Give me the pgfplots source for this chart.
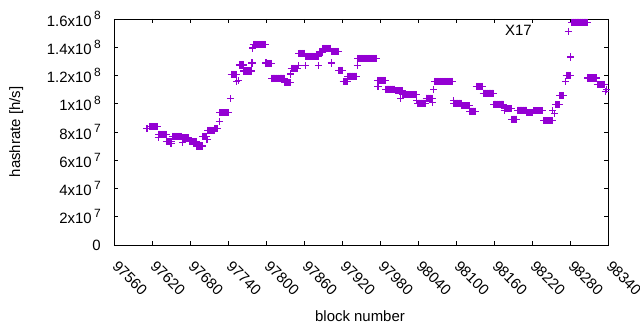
\documentclass[border=0pt]{standalone}
\usepackage{fontspec}
\setmainfont{Liberation Sans}
\usepackage{pgfplots}
\pgfplotsset{compat=1.18}
\definecolor{gpviolet}{RGB}{148,0,211}
\newcommand{\sx}[1]{\,\raisebox{0.42em}{\fontsize{12}{12}\selectfont #1}}
\begin{document}
\fontsize{15}{18}\selectfont
\begin{tikzpicture}
\useasboundingbox (-114bp,-85bp) rectangle (526bp,245bp);
\begin{axis}[
  at={(0,0)}, anchor=south west,
  scale only axis, width=494bp, height=226bp,
  xmin=97560, xmax=98340, ymin=0, ymax=1.6e8,
  clip=false,
  xtick={97560,97620,97680,97740,97800,97860,97920,97980,98040,98100,98160,98220,98280,98340},
  xticklabels={97560,97620,97680,97740,97800,97860,97920,97980,98040,98100,98160,98220,98280,98340},
  ytick={0,2e7,4e7,6e7,8e7,1e8,1.2e8,1.4e8,1.6e8},
  yticklabels={0,2x10\sx{7},4x10\sx{7},6x10\sx{7},8x10\sx{7},1x10\sx{8},1.2x10\sx{8},1.4x10\sx{8},1.6x10\sx{8}},
  scaled x ticks=false, scaled y ticks=false,
  tick align=inside, tick pos=both,
  major tick length=4bp,
  axis line style={line width=0.9bp},
  tick style={line width=0.8bp, black},
  xticklabel style={xshift=5bp, yshift=-13bp, rotate=-45, anchor=north west, inner sep=1bp},
  yticklabel style={anchor=east, inner sep=0bp, xshift=-13bp},
  xlabel={block number}, ylabel={hashrate [h/s]},
  xlabel style={at={(axis description cs:0.498,-0.314)}, anchor=center},
  ylabel style={at={(axis description cs:-0.198,0.5)}, anchor=center},
  legend plot pos=right, legend cell align=right,
  legend image code/.code={\path (0cm,0cm); \draw[#1] plot coordinates {(1.2cm,0cm)};},
  legend style={draw=none, fill=none, inner sep=0pt, outer sep=0pt, anchor=east, at={(axis description cs:0.927,0.945)}},
]
\addplot[only marks, mark=+, mark size=3.6bp, line width=1.2bp, color=gpviolet] coordinates {
(97612,82.4e6)
(97617,83.8e6)(97618,83.8e6)(97619,83.8e6)(97620,83.8e6)(97621,83.8e6)(97622,83.8e6)(97623,83.8e6)(97624,83.8e6)(97625,83.8e6)(97626,83.8e6)(97627,83.8e6)(97628,83.8e6)(97629,83.8e6)
(97630,76.1e6)
(97631,78.2e6)(97632,78.2e6)(97633,78.2e6)(97634,78.2e6)(97635,78.2e6)(97636,78.2e6)(97637,78.2e6)(97638,78.2e6)(97639,78.2e6)(97640,78.2e6)(97641,78.2e6)(97642,78.2e6)
(97643,73.2e6)(97644,73.2e6)(97645,73.2e6)(97646,73.2e6)(97647,73.2e6)(97648,73.2e6)(97649,73.2e6)(97650,71.8e6)(97651,73.2e6)
(97652,76.8e6)(97653,76.8e6)(97654,76.8e6)(97655,76.8e6)(97656,76.8e6)(97657,76.8e6)(97658,76.8e6)(97659,76.8e6)(97660,76.8e6)(97661,76.8e6)(97662,76.8e6)(97663,76.8e6)(97664,76.8e6)(97665,76.8e6)(97666,76.8e6)(97667,76.8e6)
(97668,72.5e6)
(97669,75.7e6)(97670,75.7e6)(97671,75.7e6)(97672,75.7e6)(97673,75.7e6)(97674,75.7e6)(97675,75.7e6)(97676,75.7e6)(97677,75.7e6)(97678,75.7e6)
(97679,73.2e6)(97680,73.2e6)(97681,73.2e6)(97682,73.2e6)(97683,73.2e6)(97684,73.2e6)(97685,73.2e6)(97686,73.2e6)(97687,73.2e6)(97688,73.2e6)(97689,73.2e6)(97690,73.2e6)
(97691,70.1e6)(97692,70.1e6)(97693,70.1e6)(97694,70.1e6)(97695,70.1e6)(97696,70.1e6)(97697,70.1e6)(97698,70.1e6)(97699,70.1e6)
(97700,76.8e6)(97701,76.8e6)(97702,76.8e6)(97703,76.8e6)(97704,76.8e6)(97705,76.8e6)(97706,76.8e6)
(97707,74.6e6)
(97708,81.0e6)(97709,81.0e6)(97710,81.0e6)(97711,81.0e6)(97712,81.0e6)(97713,81.0e6)(97714,81.0e6)(97715,81.0e6)(97716,81.0e6)(97717,81.0e6)(97718,81.0e6)
(97719,82.4e6)(97720,82.4e6)(97721,82.4e6)(97722,82.4e6)(97723,82.4e6)(97724,82.4e6)
(97726,87.3e6)
(97727,93.7e6)(97728,93.7e6)(97729,93.7e6)(97730,93.7e6)(97731,93.7e6)(97732,93.7e6)(97733,93.7e6)(97734,93.7e6)(97735,93.7e6)(97736,93.7e6)(97737,93.7e6)(97738,93.7e6)(97740,93.7e6)
(97744,103.5e6)
(97745,120.8e6)(97746,120.8e6)(97747,120.8e6)(97748,120.8e6)(97749,120.8e6)(97750,120.8e6)(97751,120.8e6)(97752,120.8e6)(97753,120.8e6)
(97754,115.5e6)(97756,116.2e6)
(97758,127.5e6)(97759,127.5e6)(97760,127.5e6)(97761,127.5e6)(97762,127.5e6)(97763,127.5e6)(97764,127.5e6)
(97765,123.2e6)(97766,123.2e6)(97767,123.2e6)(97768,123.2e6)(97769,123.2e6)(97770,123.2e6)(97771,123.2e6)(97772,123.2e6)(97773,123.2e6)(97774,123.2e6)(97775,123.2e6)(97776,123.2e6)(97777,123.2e6)
(97778,128.9e6)
(97779,139.4e6)
(97780,141.9e6)(97781,141.9e6)(97782,141.9e6)(97783,141.9e6)(97784,141.9e6)(97785,141.9e6)(97786,141.9e6)(97787,141.9e6)(97788,141.9e6)(97789,141.9e6)(97790,141.9e6)(97791,141.9e6)(97792,141.9e6)(97793,141.9e6)(97794,141.9e6)(97795,141.9e6)(97796,141.9e6)(97797,141.9e6)(97798,141.9e6)(97799,141.9e6)
(97800,128.9e6)
(97801,128.5e6)(97802,128.5e6)(97803,128.5e6)(97804,128.5e6)(97805,128.5e6)(97806,128.5e6)(97807,128.5e6)(97808,128.5e6)
(97809,118.0e6)(97810,118.0e6)(97811,118.0e6)(97812,118.0e6)(97813,118.0e6)(97814,118.0e6)(97815,118.0e6)(97816,118.0e6)(97817,118.0e6)(97818,118.0e6)(97819,118.0e6)(97820,118.0e6)(97821,118.0e6)(97822,118.0e6)(97823,118.0e6)(97824,118.0e6)(97825,118.0e6)(97826,118.0e6)(97827,118.0e6)(97828,118.0e6)(97829,118.0e6)
(97830,115.1e6)(97831,115.1e6)(97832,115.1e6)(97833,115.1e6)(97834,115.1e6)(97835,115.1e6)(97836,115.1e6)(97837,115.1e6)(97838,115.1e6)
(97839,121.1e6)
(97840,125.0e6)(97841,125.0e6)(97842,125.0e6)(97843,125.0e6)(97844,125.0e6)(97845,125.0e6)(97846,125.0e6)(97847,125.0e6)(97848,125.0e6)(97849,125.0e6)(97850,125.0e6)
(97851,126.8e6)
(97852,135.6e6)(97853,135.6e6)(97854,135.6e6)(97855,135.6e6)(97856,135.6e6)(97857,135.6e6)(97858,135.6e6)(97859,135.6e6)(97860,135.6e6)(97861,135.6e6)
(97862,126.8e6)
(97863,133.4e6)(97864,133.4e6)(97865,133.4e6)(97866,133.4e6)(97867,133.4e6)(97868,133.4e6)(97869,133.4e6)(97870,133.4e6)(97871,133.4e6)(97872,133.4e6)(97873,133.4e6)(97874,133.4e6)(97875,133.4e6)(97876,133.4e6)(97877,133.4e6)(97878,133.4e6)(97879,133.4e6)(97880,133.4e6)(97881,133.4e6)(97882,133.4e6)
(97883,126.8e6)
(97884,136.6e6)(97885,136.6e6)(97886,136.6e6)(97887,136.6e6)(97888,136.6e6)(97889,136.6e6)
(97890,139.1e6)(97891,139.1e6)(97892,139.1e6)(97893,139.1e6)(97894,139.1e6)(97895,139.1e6)(97896,139.1e6)(97897,139.1e6)(97898,139.1e6)(97899,139.1e6)(97900,139.1e6)(97901,139.1e6)(97902,139.1e6)
(97903,128.9e6)
(97904,137.0e6)(97905,137.0e6)(97906,137.0e6)(97907,137.0e6)(97908,137.0e6)(97909,137.0e6)(97910,137.0e6)(97911,137.0e6)(97912,137.0e6)(97913,137.0e6)(97914,137.0e6)
(97915,123.6e6)(97916,123.6e6)(97917,123.6e6)(97918,123.6e6)(97919,123.6e6)(97920,123.6e6)(97921,123.6e6)
(97922,115.5e6)(97923,115.5e6)(97924,115.5e6)(97925,115.5e6)(97926,115.5e6)(97927,115.5e6)(97928,115.5e6)
(97929,119.4e6)(97930,119.4e6)(97931,119.4e6)(97932,119.4e6)(97933,119.4e6)(97934,119.4e6)(97935,119.4e6)(97936,119.4e6)(97937,119.4e6)(97938,119.4e6)(97939,119.4e6)(97940,119.4e6)(97941,119.4e6)(97942,119.4e6)(97943,119.4e6)
(97944,126.8e6)
(97945,132.0e6)(97946,132.0e6)(97947,132.0e6)(97948,132.0e6)(97949,132.0e6)(97950,132.0e6)(97951,132.0e6)(97952,132.0e6)(97953,132.0e6)(97954,132.0e6)(97955,132.0e6)(97956,132.0e6)(97957,132.0e6)(97958,132.0e6)(97959,132.0e6)(97960,132.0e6)(97961,132.0e6)(97962,132.0e6)(97963,132.0e6)(97964,132.0e6)(97965,132.0e6)(97966,132.0e6)(97967,132.0e6)(97968,132.0e6)(97969,132.0e6)(97970,132.0e6)(97971,132.0e6)(97972,132.0e6)(97973,132.0e6)(97974,132.0e6)(97975,132.0e6)
(97976,116.5e6)(97977,112.0e6)(97978,116.5e6)(97979,116.5e6)(97980,116.5e6)(97981,116.5e6)(97982,116.5e6)(97983,116.5e6)(97984,116.5e6)(97985,116.5e6)(97986,116.5e6)(97987,116.5e6)(97988,116.5e6)
(97989,110.2e6)(97990,110.2e6)(97991,110.2e6)(97992,110.2e6)(97993,110.2e6)(97994,110.2e6)(97995,110.2e6)(97996,110.2e6)(97997,110.2e6)(97998,110.2e6)(97999,110.2e6)(98000,110.2e6)(98001,110.2e6)(98002,110.2e6)(98003,110.2e6)
(98004,109.2e6)(98005,109.2e6)(98006,109.2e6)(98007,109.2e6)(98008,109.2e6)(98009,109.2e6)(98010,109.2e6)(98011,109.2e6)(98012,109.2e6)(98013,103.5e6)(98014,109.2e6)(98015,109.2e6)
(98016,106.3e6)(98017,106.3e6)(98018,106.3e6)(98019,106.3e6)(98020,106.3e6)(98021,106.3e6)(98022,106.3e6)(98023,106.3e6)(98024,106.3e6)(98025,106.3e6)(98026,106.3e6)(98027,106.3e6)(98028,106.3e6)(98029,106.3e6)(98030,106.3e6)(98031,106.3e6)(98032,106.3e6)(98033,106.3e6)(98034,106.3e6)(98035,106.3e6)(98036,106.3e6)(98037,106.3e6)
(98038,102.1e6)
(98040,100.3e6)(98041,100.3e6)(98042,100.3e6)(98043,100.3e6)(98044,100.3e6)(98045,100.3e6)(98046,100.3e6)(98047,100.3e6)(98048,100.3e6)(98049,100.3e6)(98050,100.3e6)(98051,100.3e6)(98052,100.3e6)
(98053,103.9e6)(98054,103.9e6)(98055,103.9e6)(98056,103.9e6)(98057,103.9e6)(98058,103.9e6)(98059,103.9e6)(98060,103.9e6)(98061,103.9e6)(98062,103.9e6)
(98063,100.7e6)
(98065,109.9e6)
(98066,115.8e6)(98067,115.8e6)(98068,115.8e6)(98069,115.8e6)(98070,115.8e6)(98071,115.8e6)(98072,115.8e6)(98073,115.8e6)(98074,115.8e6)(98075,115.8e6)(98076,115.8e6)(98077,115.8e6)(98078,115.8e6)(98079,115.8e6)(98080,115.8e6)(98081,115.8e6)(98082,115.8e6)(98083,115.8e6)(98084,115.8e6)(98085,115.8e6)(98086,115.8e6)(98087,115.8e6)(98088,115.8e6)(98089,115.8e6)(98090,115.8e6)(98091,115.8e6)(98092,115.8e6)(98093,115.8e6)(98094,115.8e6)(98095,115.8e6)
(98096,102.1e6)
(98097,100.3e6)(98098,100.3e6)(98099,100.3e6)(98100,100.3e6)(98101,100.3e6)(98102,100.3e6)(98103,100.3e6)(98104,100.3e6)(98105,100.3e6)(98106,100.3e6)(98107,100.3e6)(98108,100.3e6)
(98109,98.6e6)(98110,98.6e6)(98111,98.6e6)(98112,98.6e6)(98113,98.6e6)(98114,98.6e6)(98115,98.6e6)(98116,98.6e6)(98117,98.6e6)(98118,98.6e6)(98119,98.6e6)(98120,98.6e6)(98121,98.6e6)
(98122,94.7e6)(98123,94.7e6)(98124,94.7e6)(98125,94.7e6)(98126,94.7e6)(98127,94.7e6)(98128,94.7e6)(98129,94.7e6)(98130,94.7e6)(98131,94.7e6)
(98132,112.3e6)(98133,112.3e6)(98134,112.3e6)(98135,112.3e6)(98136,112.3e6)(98137,112.3e6)(98138,112.3e6)(98139,112.3e6)(98140,112.3e6)(98141,112.3e6)(98142,112.3e6)
(98143,107.4e6)(98144,107.4e6)(98145,107.4e6)(98146,107.4e6)(98147,107.4e6)(98148,107.4e6)(98149,107.4e6)(98150,107.4e6)(98151,107.4e6)(98152,107.4e6)(98153,107.4e6)(98154,107.4e6)(98155,107.4e6)(98156,107.4e6)(98157,107.4e6)(98158,107.4e6)(98159,107.4e6)
(98160,99.6e6)(98161,99.6e6)(98162,99.6e6)(98163,99.6e6)(98164,99.6e6)(98165,99.6e6)(98166,99.6e6)(98167,99.6e6)(98168,99.6e6)(98169,99.6e6)(98170,99.6e6)(98171,99.6e6)(98172,99.6e6)(98173,99.6e6)(98174,99.6e6)(98175,99.6e6)
(98176,95.1e6)
(98177,96.5e6)(98178,96.5e6)(98179,96.5e6)(98180,96.5e6)(98181,96.5e6)(98182,96.5e6)(98183,96.5e6)(98184,96.5e6)(98185,96.5e6)(98186,96.5e6)(98187,96.5e6)
(98188,89.1e6)(98189,89.1e6)(98190,89.1e6)(98191,89.1e6)(98192,89.1e6)(98193,89.1e6)(98194,89.1e6)(98195,89.1e6)(98196,89.1e6)
(98197,95.4e6)(98198,95.4e6)(98199,95.4e6)(98200,95.4e6)(98201,95.4e6)(98202,95.4e6)(98203,95.4e6)(98204,95.4e6)(98205,95.4e6)(98206,95.4e6)(98207,95.4e6)(98208,95.4e6)(98209,95.4e6)(98210,95.4e6)(98211,95.4e6)
(98212,93.7e6)(98213,93.7e6)(98214,93.7e6)(98215,93.7e6)(98216,93.7e6)(98217,93.7e6)(98218,93.7e6)(98219,93.7e6)(98220,93.7e6)(98221,93.7e6)
(98222,95.1e6)(98223,95.1e6)(98224,95.1e6)(98225,95.1e6)(98226,95.1e6)(98227,95.1e6)(98228,95.1e6)(98229,95.1e6)(98230,95.1e6)(98231,95.1e6)(98232,95.1e6)(98233,95.1e6)(98234,95.1e6)(98235,95.1e6)(98236,95.1e6)(98237,95.1e6)
(98239,88.0e6)(98240,88.0e6)(98241,88.0e6)(98242,88.0e6)(98243,88.0e6)(98244,88.0e6)(98245,88.0e6)(98246,88.0e6)(98247,88.0e6)(98248,88.0e6)(98249,88.0e6)(98250,88.0e6)(98251,88.0e6)(98252,88.0e6)
(98253,95.1e6)(98256,93.0e6)
(98257,99.3e6)(98258,99.3e6)(98259,99.3e6)(98260,99.3e6)(98261,99.3e6)(98262,99.3e6)(98263,99.3e6)
(98264,105.6e6)(98265,105.6e6)(98266,105.6e6)(98267,105.6e6)(98268,105.6e6)(98269,105.6e6)(98270,105.6e6)
(98273,115.8e6)
(98274,120.1e6)(98275,120.1e6)(98276,120.1e6)(98277,120.1e6)(98278,120.1e6)(98279,120.1e6)(98280,120.1e6)
(98281,133.1e6)
(98283,157.7e6)(98284,157.7e6)(98285,157.7e6)(98286,157.7e6)(98287,157.7e6)(98288,157.7e6)(98289,157.7e6)(98290,157.7e6)(98291,157.7e6)(98292,157.7e6)(98293,157.7e6)(98294,157.7e6)(98295,157.7e6)(98296,157.7e6)(98297,157.7e6)(98298,157.7e6)(98299,157.7e6)(98300,157.7e6)(98301,157.7e6)(98302,157.7e6)(98303,157.7e6)(98304,157.7e6)(98305,157.7e6)(98306,157.7e6)(98307,157.7e6)
(98308,118.3e6)(98309,118.3e6)(98310,118.3e6)(98311,118.3e6)(98312,118.3e6)(98313,118.3e6)(98314,118.3e6)(98315,118.3e6)(98316,118.3e6)(98317,118.3e6)(98318,118.3e6)(98319,118.3e6)(98320,118.3e6)(98321,118.3e6)(98322,118.3e6)
(98323,113.7e6)(98324,113.7e6)(98325,113.7e6)(98326,113.7e6)(98327,113.7e6)(98328,113.7e6)(98329,113.7e6)(98330,113.7e6)(98331,113.7e6)(98332,113.7e6)(98333,113.7e6)(98334,113.7e6)
(98336,108.4e6)(98338,110.0e6)
};
\addlegendentry{X17}
\end{axis}
\end{tikzpicture}
\end{document}
